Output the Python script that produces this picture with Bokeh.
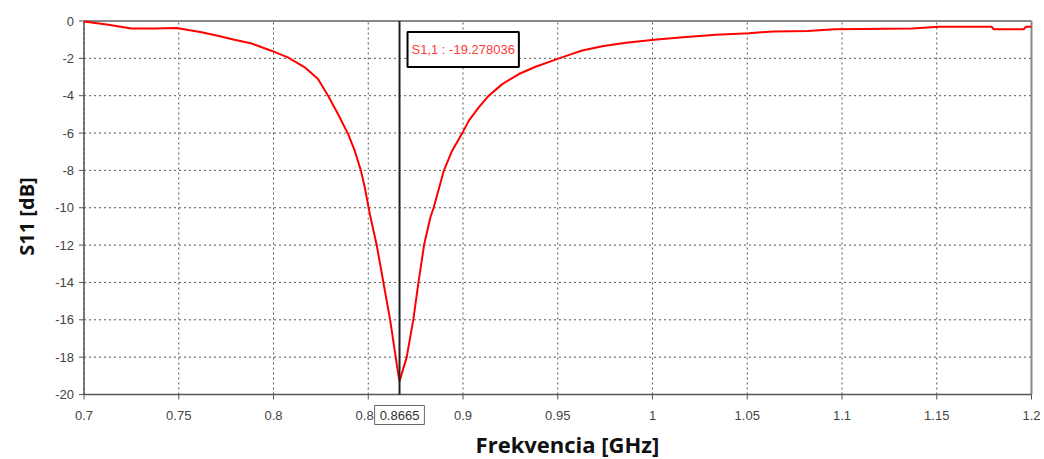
import math
from bokeh.plotting import figure
from bokeh.models import Range1d, Label
from bokeh.core.properties import value
from bokeh.embed import file_html
from bokeh.resources import INLINE

# ---- data ----
freq_ghz = [0.700, 0.712, 0.725, 0.737, 0.749, 0.762, 0.770, 0.7794, 0.788, 0.7988,
            0.8076, 0.8165, 0.8235, 0.8288, 0.8341, 0.8394, 0.8429, 0.8461, 0.8482, 0.8509,
            0.8544, 0.858, 0.8615, 0.8645, 0.8658, 0.8665, 0.8675, 0.8703, 0.8738, 0.8765,
            0.8795, 0.8827, 0.8845, 0.8898, 0.8942, 0.8995, 0.903, 0.9083, 0.9136, 0.9207,
            0.9295, 0.9383, 0.9507, 0.9576, 0.9629, 0.9735, 0.986, 1.0009, 1.016, 1.0336,
            1.051, 1.0636, 1.082, 1.096, 1.137, 1.151, 1.179, 1.180, 1.196, 1.197,
            1.200]
s11_db = [-0.03, -0.19, -0.40, -0.40, -0.38, -0.60, -0.78, -1.00, -1.19, -1.59,
          -1.95, -2.48, -3.11, -4.00, -4.99, -6.06, -6.96, -8.00, -8.93, -10.37,
          -11.97, -14.00, -15.98, -18.00, -18.90, -19.28, -18.95, -18.00, -15.98, -14.00,
          -11.97, -10.55, -10.00, -8.04, -6.96, -6.03, -5.35, -4.63, -4.00, -3.38,
          -2.84, -2.45, -2.00, -1.76, -1.58, -1.35, -1.17, -1.00, -0.87, -0.74,
          -0.65, -0.56, -0.53, -0.44, -0.40, -0.31, -0.31, -0.44, -0.44, -0.31,
          -0.31]

x_ticks = [0.7, 0.75, 0.8, 0.85, 0.9, 0.95, 1.0, 1.05, 1.1, 1.15, 1.2]
x_tick_labels = ["0.7", "0.75", "0.8", "0.85", "0.9", "0.95", "1", "1.05", "1.1", "1.15", "1.2"]
y_ticks = [-20, -18, -16, -14, -12, -10, -8, -6, -4, -2, 0]
y_tick_labels = ["-20", "-18", "-16", "-14", "-12", "-10", "-8", "-6", "-4", "-2", "0"]

marker_freq = 0.8665
marker_value = -19.278036
marker_text = "S1,1 : -19.278036"
marker_freq_text = "0.8665"

x_title = "Frekvencia [GHz]"
y_title = "S11 [dB]"

x_min, x_max = 0.7, 1.2
y_min, y_max = -20, 0

# ---- layout (pixels on the 1044x459 canvas) ----
W, H = 1044, 459
PX_X0, PX_X1 = 83.5, 1031.0     # where x_min / x_max sit
PX_Y0, PX_Y1 = 20.5, 394.0      # where y_max / y_min sit
kx = (x_max - x_min) / (PX_X1 - PX_X0)
ky = (y_max - y_min) / (PX_Y1 - PX_Y0)
# the plotting frame covers the whole canvas so that the boxed marker
# labels and the end tick labels are never clipped
x_lo, x_hi = x_min - PX_X0 * kx, x_max + (W - PX_X1) * kx
y_lo, y_hi = y_min - (H - PX_Y1) * ky, y_max + PX_Y0 * ky


def px_x(px):
    return x_min + (px - PX_X0) * kx


def px_y(py):
    return y_max - (py - PX_Y0) * ky


TICK_FONT = "Liberation Sans"
TITLE_FONT = "Open Sans"
GRID_COLOR = "#555555"
AXIS_COLOR = "#555555"
TICK_TEXT = "#444444"

p = figure(width=W, height=H, output_backend="svg", toolbar_location=None,
           x_range=Range1d(x_lo, x_hi), y_range=Range1d(y_lo, y_hi),
           x_axis_location=None, y_axis_location=None,
           min_border_left=0, min_border_right=0, min_border_top=0, min_border_bottom=0,
           background_fill_color="white", border_fill_color="white")
p.outline_line_color = None
p.grid.visible = False

nx, ny = len(x_ticks), len(y_ticks)

# dotted grid
p.segment(x0=x_ticks, y0=[y_min] * nx, x1=x_ticks, y1=[y_max] * nx,
          line_color=GRID_COLOR, line_dash="2 3", line_width=1)
p.segment(x0=[x_min] * ny, y0=y_ticks, x1=[x_max] * ny, y1=y_ticks,
          line_color=GRID_COLOR, line_dash="2 3", line_width=1)

# frame border: grey on top/right, axis lines on left/bottom
p.line([x_min, x_max], [y_max, y_max], line_color="#888888", line_width=2)
p.line([x_max, x_max], [y_min, y_max], line_color="#888888", line_width=2)
p.line([x_min, x_max], [y_min, y_min], line_color=AXIS_COLOR, line_width=1.5)
p.line([x_min, x_min], [y_min, y_max], line_color=AXIS_COLOR, line_width=1.5)

# x axis ticks and labels
p.ray(x=x_ticks, y=[y_min] * nx, length=5, length_units="screen", angle=-math.pi / 2,
      line_color=AXIS_COLOR, line_width=1)
p.text(x=x_ticks, y=[y_min] * nx, text=x_tick_labels, y_offset=21,
       text_align="center", text_baseline="middle",
       text_font=value(TICK_FONT), text_font_size="13px", text_color=TICK_TEXT)

# y axis ticks and labels
p.ray(x=[x_min] * ny, y=y_ticks, length=5, length_units="screen", angle=math.pi,
      line_color=AXIS_COLOR, line_width=1)
p.text(x=[x_min] * ny, y=y_ticks, text=y_tick_labels, x_offset=-10,
       text_align="right", text_baseline="middle",
       text_font=value(TICK_FONT), text_font_size="13px", text_color=TICK_TEXT)

# axis titles
p.text(x=[px_x(567)], y=[px_y(443)], text=[x_title],
       text_align="center", text_baseline="middle",
       text_font=value(TITLE_FONT), text_font_style="bold", text_font_size="22px",
       text_color="#111111")
p.text(x=[px_x(26)], y=[px_y(216)], text=[y_title], angle=math.pi / 2,
       text_align="center", text_baseline="middle",
       text_font=value(TITLE_FONT), text_font_style="bold", text_font_size="20px",
       text_color="#111111")

# curve
p.line(freq_ghz, s11_db, line_color="#ff0000", line_width=2)

# marker line
p.segment(x0=[marker_freq], y0=[y_min], x1=[marker_freq], y1=[y_max],
          line_color="#222222", line_width=2)

p.add_layout(Label(x=marker_freq, y=y_max, x_offset=8, y_offset=-11, text=marker_text,
                   text_align="left", text_baseline="top",
                   text_font=TICK_FONT, text_font_size="13px", text_color="#ff3b3b",
                   background_fill_color="white", border_line_color="black",
                   border_line_width=2, padding=(4, 10)))

p.add_layout(Label(x=marker_freq, y=y_min, y_offset=-20.5, text=marker_freq_text,
                   text_align="center", text_baseline="middle",
                   text_font=TICK_FONT, text_font_size="13px", text_color="#333333",
                   background_fill_color="white", border_line_color="#666666",
                   border_line_width=1, padding=5))

open("out.html", "w").write(file_html(p, INLINE))
